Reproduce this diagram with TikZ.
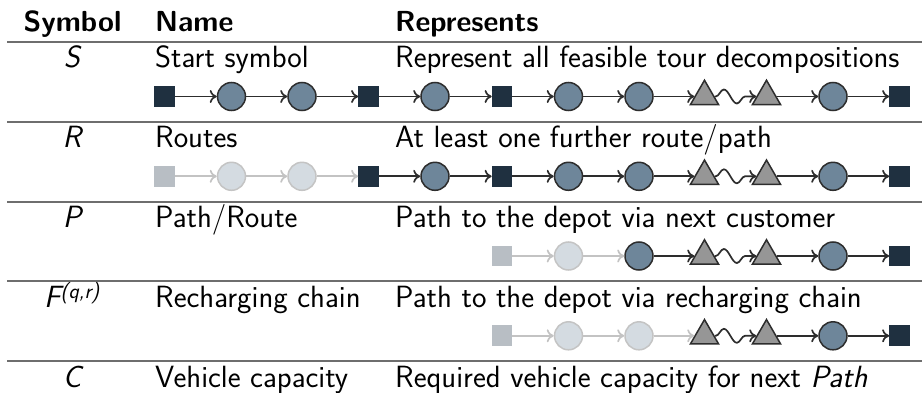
\documentclass[tikz,border=0pt]{standalone}
\usetikzlibrary{arrows.meta,shapes.geometric,decorations.pathmorphing}
\definecolor{navy}{RGB}{31,48,64}
\definecolor{slate}{RGB}{110,134,154}
\definecolor{edge}{RGB}{45,45,45}
\definecolor{trigray}{RGB}{150,150,150}
\definecolor{fadesq}{RGB}{184,190,196}
\definecolor{fadeci}{RGB}{212,219,225}
\definecolor{fadeedge}{RGB}{196,196,196}
\definecolor{fadeline}{RGB}{195,195,195}
\definecolor{rulegray}{RGB}{110,110,110}
\begin{document}
\begin{tikzpicture}[x=1pt,y=-1pt,
  font=\sffamily\fontsize{30.7}{36}\selectfont,
  txt/.style={inner sep=0pt, anchor=base west},
  sym/.style={inner sep=0pt, anchor=base},
  rulel/.style={line width=2pt, draw=rulegray},
  dsq/.style={rectangle, minimum size=19.5pt, inner sep=0pt, fill=navy, draw=navy, line width=1.2pt},
  fsq/.style={rectangle, minimum size=19.5pt, inner sep=0pt, fill=fadesq, draw=fadesq, line width=1.2pt},
  dci/.style={circle, minimum size=28pt, inner sep=0pt, fill=slate, draw=edge, line width=1.5pt},
  fci/.style={circle, minimum size=28pt, inner sep=0pt, fill=fadeci, draw=fadeedge, line width=1.5pt},
  tri/.style={regular polygon, regular polygon sides=3, minimum size=32.5pt, inner sep=0pt, fill=trigray, draw=edge, line width=1.5pt},
  dar/.style={-{To[length=7pt,width=13pt]}, line width=1.7pt, draw=edge},
  far/.style={-{To[length=7pt,width=13pt]}, line width=1.7pt, draw=fadeline},
  wave/.style={dar, decorate, decoration={snake, amplitude=7pt, segment length=26pt, pre length=1pt, post length=11pt}}
]
\useasboundingbox (0,0) rectangle (922,393);

% header
\node[sym] (hs) at (72.5,32) {\bfseries\fontsize{29}{34}\selectfont Symbol};
\node[txt] (hn) at (155,32) {\bfseries\fontsize{29}{34}\selectfont Name};
\node[txt] (hr) at (395,32) {\bfseries\fontsize{29}{34}\selectfont Represents};

% rules
\foreach \y/\n in {42/r0,121.8/r1,201.6/r2,281.4/r3,361.2/r4}{
  \coordinate (\n l) at (7,\y);
  \coordinate (\n r) at (922,\y);
  \draw[rulel] (\n l) -- (\n r);
}

% texts
\node[sym] (s1) at (72,68) {\itshape S};
\node[txt] (n1) at (155,68) {Start symbol};
\node[txt] (d1) at (395,68) {Represent all feasible tour decompositions};

\node[sym] (s2) at (72,147.8) {\itshape R};
\node[txt] (n2) at (155,147.8) {Routes};
\node[txt] (d2) at (395,147.8) {At least one further route/path};

\node[sym] (s3) at (72,227.6) {\itshape P};
\node[txt] (n3) at (155,227.6) {Path/Route};
\node[txt] (d3) at (395,227.6) {Path to the depot via next customer};

\node[sym] (s4) at (72,307.4) {\itshape F\textsuperscript{(q,r)}};
\node[txt] (n4) at (155,307.4) {Recharging chain};
\node[txt] (d4) at (395,307.4) {Path to the depot via recharging chain};

\node[sym] (s5) at (72,387.2) {\itshape C};
\node[txt] (n5) at (155,387.2) {Vehicle capacity};
\node[txt] (d5) at (395,387.2) {Required vehicle capacity for next \textit{Path}};

% row 1
\foreach \i/\x/\s in {1/164.5/dsq,2/231.5/dci,3/302/dci,4/368.5/dsq,5/435/dci,6/502/dsq,7/568.5/dci,8/639/dci,9/704.5/tri,10/766.5/tri,11/833/dci,12/899.5/dsq}
  \node[\s] (a\i) at (\x,96.5) {};
\foreach \i/\j in {1/2,2/3,3/4,4/5,5/6,6/7,7/8,8/9,10/11,11/12}
  \draw[dar] (a\i) -- (a\j);
\draw[wave] (a9) -- (a10);

% row 2
\foreach \i/\x/\s in {1/164.5/fsq,2/231.5/fci,3/302/fci,4/368.5/dsq,5/435/dci,6/502/dsq,7/568.5/dci,8/639/dci,9/704.5/tri,10/766.5/tri,11/833/dci,12/899.5/dsq}
  \node[\s] (b\i) at (\x,176.3) {};
\foreach \i/\j in {1/2,2/3,3/4}
  \draw[far] (b\i) -- (b\j);
\foreach \i/\j in {4/5,5/6,6/7,7/8,8/9,10/11,11/12}
  \draw[dar] (b\i) -- (b\j);
\draw[wave] (b9) -- (b10);

% row 3
\foreach \i/\x/\s in {6/502/fsq,7/568.5/fci,8/639/dci,9/704.5/tri,10/766.5/tri,11/833/dci,12/899.5/dsq}
  \node[\s] (c\i) at (\x,256) {};
\foreach \i/\j in {6/7,7/8}
  \draw[far] (c\i) -- (c\j);
\foreach \i/\j in {8/9,10/11,11/12}
  \draw[dar] (c\i) -- (c\j);
\draw[wave] (c9) -- (c10);

% row 4
\foreach \i/\x/\s in {6/502/fsq,7/568.5/fci,8/639/fci,9/704.5/tri,10/766.5/tri,11/833/dci,12/899.5/dsq}
  \node[\s] (d\i) at (\x,335.8) {};
\foreach \i/\j in {6/7,7/8,8/9}
  \draw[far] (d\i) -- (d\j);
\foreach \i/\j in {10/11,11/12}
  \draw[dar] (d\i) -- (d\j);
\draw[wave] (d9) -- (d10);
\end{tikzpicture}
\end{document}
